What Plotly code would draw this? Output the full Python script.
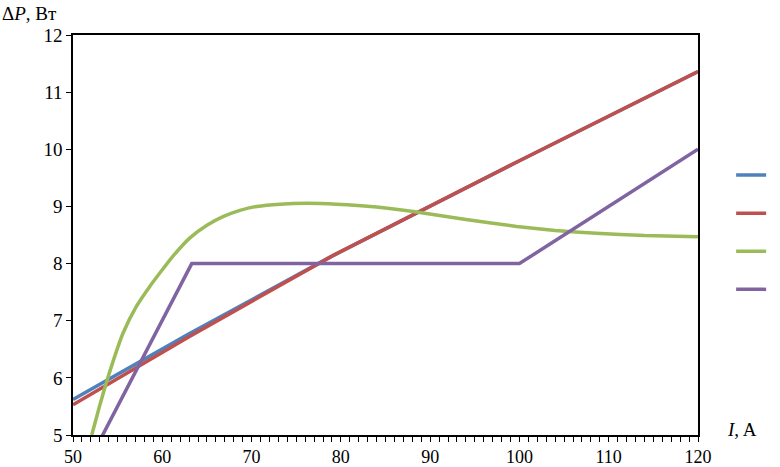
import plotly.graph_objects as go

# readings from the reference chart (I in A, dP in W)
blue_x = [50, 63, 79, 100, 120]
blue_y = [5.62, 6.77, 8.13, 9.80, 11.36]

red_x = [50, 63, 79, 100, 120]
red_y = [5.53, 6.72, 8.13, 9.80, 11.36]

green_x = [52.1, 53.0, 54.1, 55.6, 57.1, 58.6, 59.7, 61.2, 63.1, 65.0, 66.8, 68.7, 70.6,
           73.2, 76.2, 79.5, 84.0, 88.1, 94.0, 99.7, 104.0, 108.6, 114.0, 120.0]
green_y = [5.0, 5.52, 6.1, 6.78, 7.25, 7.6, 7.83, 8.13, 8.45, 8.67, 8.82, 8.93, 9.0,
           9.04, 9.055, 9.04, 8.99, 8.91, 8.77, 8.65, 8.58, 8.53, 8.49, 8.47]

purple_x = [50, 63.3, 100, 120]
purple_y = [4.0, 8.0, 8.0, 10.0]

colors = ['#4F81BD', '#C0504D', '#9BBB59', '#8064A2']
font_name = 'Liberation Serif'

fig = go.Figure()
for xs, ys, c in [(blue_x, blue_y, colors[0]), (red_x, red_y, colors[1]),
                  (green_x, green_y, colors[2]), (purple_x, purple_y, colors[3])]:
    fig.add_trace(go.Scatter(x=xs, y=ys, name=' ', mode='lines',
                             line=dict(color=c, width=3.5, shape='spline' if xs is green_x else 'linear',
                                       smoothing=0.5)))

fig.update_xaxes(range=[50, 120], dtick=10, ticks='outside', ticklen=5, tickcolor='black',
                 tickfont=dict(family=font_name, size=18, color='black'),
                 showline=True, linecolor='black', linewidth=1.5, mirror=True,
                 showgrid=False, zeroline=False,
                 minor=dict(dtick=1, ticks='outside', ticklen=5, tickcolor='black'))
fig.update_yaxes(range=[5, 12], dtick=1, ticks='outside', ticklen=5, tickcolor='black',
                 tickfont=dict(family=font_name, size=19, color='black'),
                 showline=True, linecolor='black', linewidth=1.5, mirror=True,
                 showgrid=False, zeroline=False)

fig.add_annotation(text='Δ<i>P</i>, Вт', xref='paper', yref='paper', x=-0.1168, y=1.053,
                   xanchor='left', yanchor='middle', showarrow=False,
                   font=dict(family=font_name, size=19, color='black'))
fig.add_annotation(text='<i>I</i>, A', xref='paper', yref='paper', x=1.043, y=0.015,
                   xanchor='left', yanchor='middle', showarrow=False,
                   font=dict(family=font_name, size=19, color='black'))

fig.update_layout(
    width=780, height=467,
    margin=dict(l=73, r=82, t=35, b=32, autoexpand=False),
    plot_bgcolor='white', paper_bgcolor='white',
    font=dict(family=font_name, size=19, color='black'),
    showlegend=True,
    legend=dict(x=1.053, y=0.71, xanchor='left', yanchor='top',
                font=dict(size=27), bgcolor='rgba(0,0,0,0)'),
)

# drop the browser's default body margin so the figure fills the window
fig.write_html("out.html", config={'displayModeBar': False},
               post_script="document.body.style.margin = '0';")
